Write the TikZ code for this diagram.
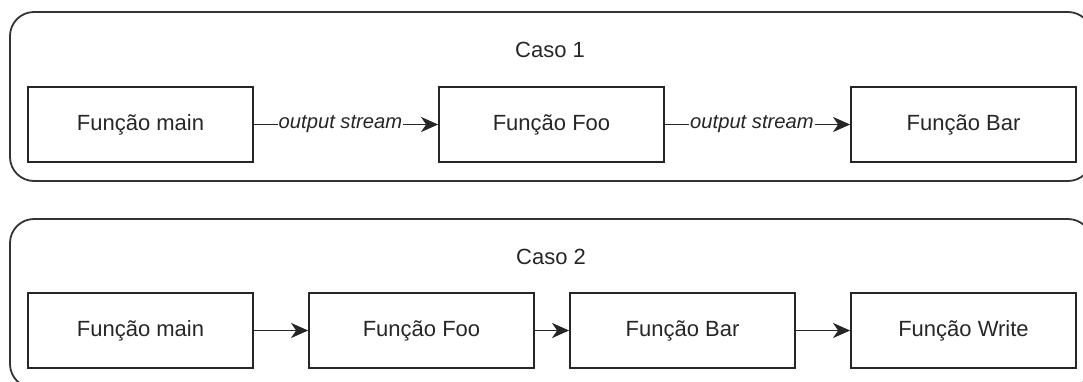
\documentclass[tikz,border=0pt]{standalone}
\usepackage{fontspec}
\setmainfont{Liberation Sans}
\usetikzlibrary{arrows.meta}
\begin{document}
\begin{tikzpicture}[x=1pt,y=-1pt,
  func/.style={draw=black!85, line width=1.8pt, minimum width=225pt, minimum height=75pt,
    inner sep=0pt, font=\fontsize{22}{26}\selectfont, text=black!85},
  group/.style={draw=black!80, line width=1.8pt, rounded corners=24pt,
    minimum width=1082pt, minimum height=169pt, inner sep=0pt},
  flow/.style={draw=black!85, line width=1.8pt,
    -{Stealth[length=17pt,width=15pt,inset=5pt]}},
  lbl/.style={fill=white, inner sep=1pt, text=black!85,
    font=\fontsize{20.2}{24}\selectfont\itshape},
  title/.style={font=\fontsize{22}{26}\selectfont, text=black!85, anchor=base}]
\useasboundingbox (0,0) rectangle (1083,381);
\clip (0,0) rectangle (1083,381);

% containers
\node[group] (caso1) at (551,96.5) {};
\node[group] (caso2) at (551,303.5) {};
\node[title] (t1) at (550,57) {Caso 1};
\node[title] (t2) at (551,264) {Caso 2};

% first chain
\node[func] (amain) at (140.5,124.5) {Função main};
\node[func] (afoo)  at (551.5,124.5) {Função Foo};
\node[func] (abar)  at (963.5,124.5) {Função Bar};
\draw[flow] (amain) -- node[lbl, pos=0.47] {output stream} (afoo);
\draw[flow] (afoo) -- node[lbl, pos=0.47] {output stream} (abar);

% second chain
\node[func] (bmain)  at (140.5,330.5) {Função main};
\node[func] (bfoo)   at (421.5,330.5) {Função Foo};
\node[func] (bbar)   at (682.5,330.5) {Função Bar};
\node[func] (bwrite) at (963.5,330.5) {Função Write};
\draw[flow] (bmain) -- (bfoo);
\draw[flow] (bfoo) -- (bbar);
\draw[flow] (bbar) -- (bwrite);
\end{tikzpicture}
\end{document}
